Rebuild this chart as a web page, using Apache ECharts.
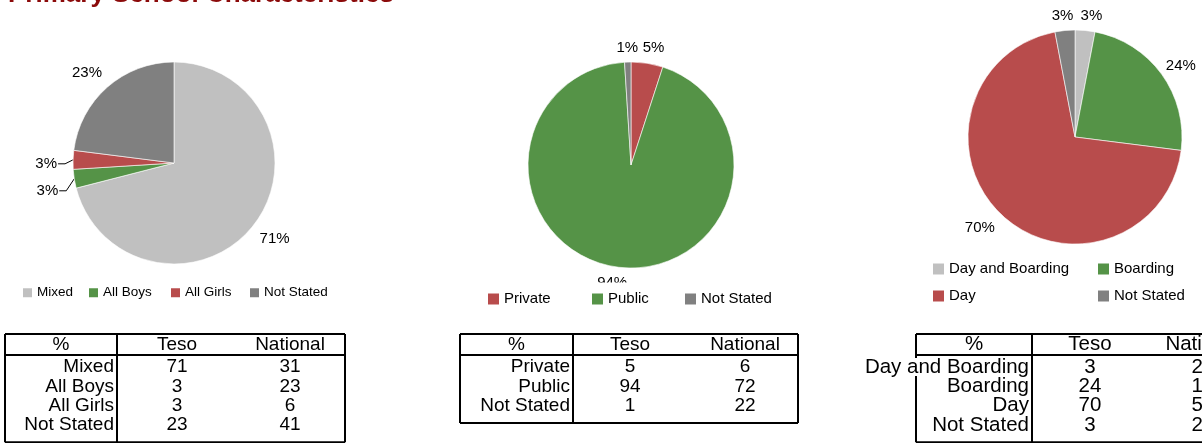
<!DOCTYPE html>
<html><head><meta charset="utf-8">
<script src="https://cdn.jsdelivr.net/npm/echarts@6/dist/echarts.min.js"></script>
<style>html,body{margin:0;padding:0;background:#fff}#c{width:1202px;height:443px}</style>
</head><body><div id="c"></div>
<script>
// ---------- data ----------
const titleText = 'Primary School Characteristics';
const tableHeader = ['%', 'Teso', 'National'];

const schoolTypeCategories = ['Mixed', 'All Boys', 'All Girls', 'Not Stated'];
const schoolTypeTeso = [71, 3, 3, 23];
const schoolTypeNational = [31, 23, 6, 41];

const ownershipCategories = ['Private', 'Public', 'Not Stated'];
const ownershipTeso = [5, 94, 1];
const ownershipNational = [6, 72, 22];

const boardingCategories = ['Day and Boarding', 'Boarding', 'Day', 'Not Stated'];
const boardingTeso = [3, 24, 70, 3];
const boardingNational = [21, 17, 52, 20]; // only first digits visible in the source

// ---------- styles / layout ----------
const FONT = "'Liberation Sans', Arial, Helvetica, sans-serif";
const C_LIGHT = '#c0c0c0', C_GREEN = '#559347', C_RED = '#b84c4c', C_DARK = '#808080';

const panels = [
  {
    cats: schoolTypeCategories, teso: schoolTypeTeso, national: schoolTypeNational,
    colors: [C_LIGHT, C_GREEN, C_RED, C_DARK],
    center: [174, 163], radius: 101,
    leader: {1: {dy: 12}, 2: {dy: 4}},
    nudge: {0: [3, 0], 3: [-6, 2]},
    legend: {font: 13.5, icon: 9, items: [[23, 292.5], [89, 292.5], [171, 292.5], [250, 292.5]], bg: false},
    table: {left: 5, divider: 117, right: 345, teso: 177, national: 290, font: 19}
  },
  {
    cats: ownershipCategories, teso: ownershipTeso, national: ownershipNational,
    colors: [C_RED, C_GREEN, C_DARK],
    center: [631, 165], radius: 103,
    leader: {},
    nudge: {0: [4, 0], 1: [-4, 0]},
    legend: {font: 15, icon: 11, items: [[488, 299], [592, 299], [685, 299]], bg: true},
    table: {left: 460, divider: 573, right: 798, teso: 630, national: 745, font: 19}
  },
  {
    cats: boardingCategories, teso: boardingTeso, national: boardingNational,
    colors: [C_LIGHT, C_GREEN, C_RED, C_DARK],
    center: [1075, 137], radius: 107,
    leader: {},
    nudge: {0: [5, 0], 1: [1, 5], 2: [-7, -3], 3: [-1, 0]},
    legend: {font: 15, icon: 11, items: [[933, 269], [1098, 269], [933, 296], [1098, 296]], bg: false},
    table: {left: 916, divider: 1032, right: 1262, teso: 1090, national: 1203, font: 20.5}
  }
];
const TABLE_TOP = 334, HEADER_BOTTOM = 355, ROW_H = 19.3;
const LABEL_GAP = 6;

// ---------- build option ----------
const series = panels.map((p, si) => ({
  type: 'pie',
  center: p.center,
  radius: p.radius,
  startAngle: 90,
  clockwise: true,
  avoidLabelOverlap: false,
  itemStyle: {borderColor: '#ffffff', borderWidth: 0.6},
  emphasis: {disabled: true},
  label: {
    show: true, position: 'outside', formatter: '{c}%',
    fontSize: 15, fontFamily: FONT, color: '#000'
  },
  labelLine: {show: true, length: 4, length2: 12, lineStyle: {opacity: 0}},
  data: p.cats.map((name, i) => {
    const item = {name, value: p.teso[i], itemStyle: {color: p.colors[i]}};
    if (p.leader[i]) item.labelLine = {lineStyle: {opacity: 1, color: '#000', width: 1}};
    return item;
  }),
  labelLayout: function (params) {
    const pts = params.labelLinePoints;
    if (!pts) return {};
    const cx = p.center[0], cy = p.center[1];
    const p0 = pts[0];
    const leader = p.leader[params.dataIndex];
    if (leader) {
      const ny = p0[1] + leader.dy;
      return {
        x: p0[0] - 16, y: ny, align: 'right', verticalAlign: 'middle',
        labelLinePoints: [[p0[0], p0[1]], [p0[0] - 8, ny], [p0[0] - 15, ny]]
      };
    }
    const dx = p0[0] - cx, dy = p0[1] - cy;
    const d = Math.sqrt(dx * dx + dy * dy);
    const ux = dx / d, uy = dy / d;
    const w = params.labelRect.width, h = params.labelRect.height;
    const ext = Math.abs(ux) * w / 2 + Math.abs(uy) * h / 2;
    const dist = d + LABEL_GAP + ext;
    const nd = p.nudge[params.dataIndex] || [0, 0];
    return {x: cx + ux * dist + nd[0], y: cy + uy * dist + nd[1], align: 'center', verticalAlign: 'middle'};
  }
}));

const legends = [];
panels.forEach(p => {
  p.cats.forEach((name, i) => {
    const [x, cy] = p.legend.items[i];
    const pad = p.legend.bg ? [9, 4, 4, 4] : [0, 0, 0, 0];
    legends.push({
      data: [name],
      left: x - pad[3],
      top: cy - p.legend.font / 2 - pad[0],
      padding: pad,
      backgroundColor: p.legend.bg ? '#ffffff' : 'transparent',
      icon: 'rect',
      itemWidth: p.legend.icon, itemHeight: p.legend.icon,
      itemStyle: {borderWidth: 0},
      selectedMode: false,
      textStyle: {fontSize: p.legend.font, fontFamily: FONT, color: '#000'}
    });
  });
});

const graphics = [];
graphics.push({
  type: 'text', x: 8, y: -5, z: 20,
  style: {text: titleText, fontSize: 26, fontWeight: 'bold', fontFamily: FONT, fill: '#8b0a0a',
          align: 'left', verticalAlign: 'middle'}
});
function line(x1, y1, x2, y2) {
  graphics.push({type: 'line', z: 10, shape: {x1, y1, x2, y2}, style: {stroke: '#000', lineWidth: 2}});
}
function txt(text, x, y, align, font, bg) {
  const style = {text: String(text), x: 0, y: 0, fontSize: font, fontFamily: FONT, fill: '#000',
                 align, verticalAlign: 'middle', lineHeight: 18};
  if (bg) { style.backgroundColor = '#ffffff'; }
  graphics.push({type: 'text', z: 11, x, y, style});
}
panels.forEach(p => {
  const t = p.table;
  const n = p.cats.length;
  const bottom = HEADER_BOTTOM + n * ROW_H + 10;
  line(t.left, TABLE_TOP, t.right, TABLE_TOP);
  line(t.left, HEADER_BOTTOM, t.right, HEADER_BOTTOM);
  line(t.left, bottom, t.right, bottom);
  line(t.left, TABLE_TOP, t.left, bottom);
  line(t.divider, TABLE_TOP, t.divider, bottom);
  line(t.right, TABLE_TOP, t.right, bottom);
  const hy = (TABLE_TOP + HEADER_BOTTOM) / 2;
  txt(tableHeader[0], (t.left + t.divider) / 2, hy, 'center', t.font);
  txt(tableHeader[1], t.teso, hy, 'center', t.font);
  txt(tableHeader[2], t.national, hy, 'center', t.font);
  p.cats.forEach((c, i) => {
    const y = HEADER_BOTTOM + 12 + i * ROW_H;
    txt(c, t.divider - 3, y, 'right', t.font, true);
    txt(p.teso[i], t.teso, y, 'center', t.font);
    txt(p.national[i], t.national, y, 'center', t.font);
  });
});

const chart = echarts.init(document.getElementById('c'), null, {renderer: 'canvas'});
chart.setOption({
  animation: false,
  backgroundColor: '#ffffff',
  legend: legends,
  series,
  graphic: {elements: graphics}
});
</script></body></html>
